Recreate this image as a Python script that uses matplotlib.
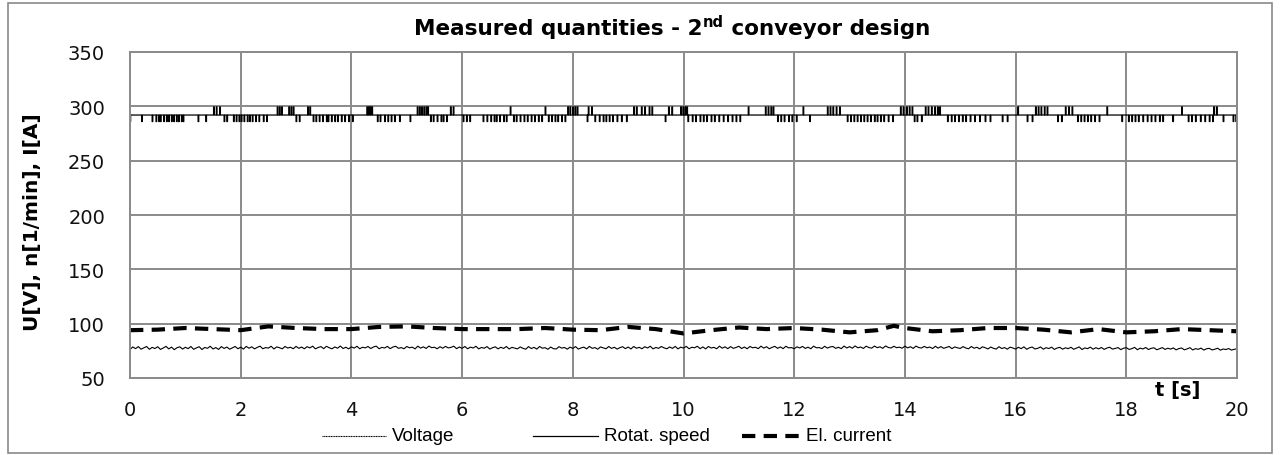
import numpy as np
import matplotlib
matplotlib.use("Agg")
import matplotlib.pyplot as plt
from matplotlib.patches import Rectangle
from matplotlib.lines import Line2D

# ---------------- data ----------------
title_main = "Measured quantities - 2"
title_sup = "nd"
title_rest = " conveyor design"
y_label = "U[V], n[1/min], I[A]"
x_label = "t [s]"
x_ticks = [0, 2, 4, 6, 8, 10, 12, 14, 16, 18, 20]
y_ticks = [50, 100, 150, 200, 250, 300, 350]
series_names = ["Voltage", "Rotat. speed", "El. current"]

# Voltage, sampled every 0.05 s
voltage_dt = 0.05
voltage = [
    76.2, 78.6, 77.0, 78.9, 76.5, 77.8, 79.0, 76.4, 78.2, 77.1, 78.8, 76.3, 77.6, 79.1, 76.8, 78.4, 76.1, 77.9, 78.7, 76.6,
    78.3, 77.0, 79.0, 76.4, 77.7, 78.8, 76.2, 78.1, 77.3, 79.2, 76.7, 78.0, 76.3, 78.9, 77.2, 78.5, 76.5, 77.8, 79.0, 76.9,
    78.4, 76.6, 79.1, 77.4, 78.7, 76.8, 78.2, 79.3, 76.9, 78.0, 77.5, 79.2, 76.7, 78.6, 77.9, 76.8, 79.0, 77.6, 78.3, 76.9,
    79.1, 77.3, 78.5, 76.9, 78.8, 77.7, 79.3, 76.8, 78.1, 78.9, 77.0, 79.2, 77.8, 76.9, 78.6, 77.4, 79.4, 77.1, 78.3, 76.8,
    78.7, 77.5, 79.2, 76.9, 78.3, 77.7, 79.0, 77.1, 78.6, 79.3, 76.9, 78.2, 77.6, 79.1, 77.0, 78.5, 79.2, 77.3, 78.0, 76.9,
    79.0, 77.8, 78.4, 76.8, 79.3, 77.5, 78.7, 77.2, 79.4, 77.9, 78.3, 76.9, 78.8, 77.4, 79.1, 77.7, 78.2, 79.3, 77.0, 78.5,
    77.3, 79.0, 76.9, 78.4, 77.6, 79.2, 76.8, 78.1, 77.4, 78.9, 76.6, 77.9, 78.7, 76.8, 78.3, 77.2, 79.0, 76.7, 78.2, 77.5,
    76.8, 78.6, 77.3, 76.5, 78.9, 77.1, 78.2, 76.6, 79.0, 77.4, 77.9, 76.4, 78.5, 77.0, 76.7, 78.8, 77.5, 78.1, 76.5, 78.4,
    77.2, 78.9, 76.6, 77.7, 78.4, 76.8, 79.1, 77.3, 78.0, 76.5, 78.6, 77.8, 76.9, 79.0, 77.2, 78.3, 76.6, 77.9, 78.8, 77.0,
    78.5, 76.7, 79.0, 77.4, 78.2, 76.9, 78.8, 77.6, 79.2, 76.8, 78.1, 77.3, 79.0, 77.7, 76.9, 78.6, 77.2, 79.1, 76.8, 78.4,
    77.5, 79.1, 76.9, 78.3, 77.8, 79.2, 77.0, 78.6, 76.8, 79.0, 77.6, 78.2, 76.9, 79.3, 77.4, 78.7, 77.0, 78.9, 77.3, 78.1,
    79.2, 77.1, 78.5, 76.9, 79.0, 77.8, 78.3, 77.0, 79.3, 77.5, 78.8, 76.9, 78.2, 79.1, 77.3, 78.6, 77.0, 79.2, 77.7, 78.0,
    76.9, 78.7, 77.6, 79.1, 77.2, 78.4, 76.9, 79.3, 77.8, 78.0, 77.1, 79.2, 77.5, 78.6, 79.0, 77.3, 78.3, 77.0, 79.4, 77.6,
    78.9, 77.4, 79.5, 77.8, 78.5, 77.2, 79.3, 78.0, 77.5, 79.4, 77.9, 78.7, 77.3, 79.5, 78.1, 77.6, 79.2, 77.9, 78.4, 77.4,
    79.3, 77.7, 78.8, 77.2, 79.4, 78.0, 77.6, 79.1, 77.8, 78.5, 77.1, 79.2, 77.5, 78.9, 77.3, 78.2, 79.0, 77.0, 78.6, 77.8,
    77.2, 78.9, 77.6, 76.9, 79.0, 77.4, 78.3, 76.8, 78.7, 77.9, 76.7, 78.5, 77.3, 76.6, 78.8, 77.1, 78.0, 76.5, 78.4, 77.6,
    76.6, 78.3, 77.0, 78.7, 76.4, 77.8, 78.5, 76.7, 77.3, 78.6, 76.5, 77.9, 77.1, 78.4, 76.3, 77.6, 78.2, 76.5, 77.8, 77.0,
    78.3, 76.4, 77.5, 78.6, 76.2, 77.7, 77.0, 78.4, 76.5, 77.9, 76.8, 78.1, 76.3, 77.6, 78.3, 76.6, 77.2, 78.0, 76.1, 77.4,
    77.9, 76.3, 77.0, 78.2, 76.0, 77.5, 76.7, 78.1, 76.2, 77.3, 77.8, 76.0, 76.9, 78.0, 76.3, 77.4, 76.6, 77.7, 75.9, 77.1,
    77.6, 75.9, 76.8, 77.9, 75.8, 77.0, 76.4, 77.5, 75.7, 76.9, 77.3, 75.8, 76.5, 77.4, 75.6, 76.7, 76.2, 77.1, 75.7, 76.4,
    76.9,
]

# Rotational speed: base level with short drops and short peaks (times in s)
speed_base = 292
speed_low = 286
speed_high = 299.5
speed_down_t = [
    0.00, 0.21, 0.40, 0.47, 0.52, 0.55, 0.61, 0.66, 0.70, 0.75, 0.79, 0.84, 0.88, 0.93, 0.96, 1.23, 1.37,
    1.70, 1.75, 1.87, 1.92, 1.97, 2.01, 2.06, 2.12, 2.16, 2.21, 2.27, 2.33, 2.41, 2.47, 3.00, 3.06,
    3.31, 3.36, 3.42, 3.48, 3.55, 3.58, 3.64, 3.70, 3.75, 3.82, 3.88, 3.95, 4.02, 4.47, 4.52, 4.60,
    4.66, 4.72, 4.78, 4.87, 5.06, 5.43, 5.48, 5.55, 5.62, 5.66, 5.72, 6.02, 6.08, 6.14, 6.38, 6.45,
    6.52, 6.58, 6.62, 6.68, 6.75, 6.80, 6.93, 6.98, 7.05, 7.12, 7.18, 7.25, 7.31, 7.38, 7.44, 7.56,
    7.62, 7.68, 7.73, 7.80, 7.86, 8.26, 8.40, 8.48, 8.55, 8.60, 8.66, 8.72, 8.80, 8.88, 8.97, 9.67,
    10.08, 10.16, 10.22, 10.30, 10.36, 10.42, 10.50, 10.56, 10.64, 10.72, 10.80, 10.88, 10.95, 11.02,
    11.70, 11.76, 11.82, 11.90, 11.96, 12.04, 12.28, 12.96, 13.02, 13.08, 13.14, 13.20, 13.26, 13.32,
    13.38, 13.45, 13.50, 13.56, 13.62, 13.70, 13.78, 14.17, 14.22, 14.30, 14.77, 14.84, 14.90, 14.97,
    15.04, 15.10, 15.18, 15.26, 15.35, 15.45, 15.54, 15.76, 15.85, 16.21, 16.30, 16.76, 16.83, 17.12,
    17.18, 17.24, 17.30, 17.36, 17.43, 17.51, 17.92, 18.04, 18.10, 18.16, 18.22, 18.30, 18.38, 18.45,
    18.52, 18.60, 18.66, 18.84, 19.12, 19.18, 19.25, 19.34, 19.42, 19.50, 19.56, 19.75, 19.93, 19.98,
]
speed_up_t = [
    1.51, 1.56, 1.62, 2.66, 2.70, 2.74, 2.87, 2.91, 2.95, 3.21, 3.25, 4.28, 4.31, 4.34, 4.37, 5.19,
    5.23, 5.27, 5.31, 5.35, 5.38, 5.79, 5.84, 6.87, 7.50, 7.91, 7.95, 8.00, 8.04, 8.08, 8.28, 8.34,
    9.10, 9.15, 9.24, 9.30, 9.38, 9.43, 9.73, 9.79, 9.95, 9.99, 10.03, 10.06, 11.17, 11.48, 11.53,
    11.58, 11.62, 12.16, 12.60, 12.65, 12.70, 12.76, 12.82, 13.92, 13.97, 14.03, 14.08, 14.13, 14.37,
    14.42, 14.48, 14.54, 14.59, 14.63, 16.04, 16.36, 16.41, 16.46, 16.52, 16.57, 16.90, 16.96, 17.02,
    17.65, 19.00, 19.58, 19.63,
]

# Electric current, sampled every 0.5 s
current_t = [0, 0.5, 1, 1.5, 2, 2.5, 3, 3.5, 4, 4.5, 5, 5.5, 6, 6.5, 7, 7.5, 8, 8.5, 9, 9.5, 10,
             10.5, 11, 11.5, 12, 12.5, 13, 13.5, 13.8, 14, 14.5, 15, 15.5, 16, 16.5, 17, 17.5,
             18, 18.5, 19, 19.5, 20]
current = [94, 94.5, 96, 95, 94, 97.5, 96, 95, 95, 97, 97.5, 96, 95, 95, 95, 96, 94.5, 94, 97,
           95, 91, 94, 96.5, 95, 96, 94.5, 92, 94, 98, 96, 93, 94, 96, 96, 94.5, 92, 95, 92,
           93, 95, 94, 93]

# ---------------- figure ----------------
W, H, DPI = 1280, 456, 100
fig = plt.figure(figsize=(W / DPI, H / DPI), dpi=DPI)
fig.patch.set_facecolor("white")

main_font = ["DejaVu Sans"]
legend_font = ["Liberation Sans Narrow", "Liberation Sans", "DejaVu Sans"]
grid_col = "#8a8a8a"

ax = fig.add_axes([130 / W, 1 - 379 / H, (1237 - 130) / W, (379 - 53) / H])
ax.set_xlim(0, 20)
ax.set_ylim(50, 350)
ax.set_xticks(x_ticks)
ax.set_yticks(y_ticks)
ax.set_xticklabels([str(v) for v in x_ticks], family=main_font, fontsize=14)
ax.set_yticklabels([str(v) for v in y_ticks], family=main_font, fontsize=14)
ax.tick_params(axis="x", length=0, pad=16, colors="#111111")
ax.tick_params(axis="y", length=0, pad=18, colors="#111111")
ax.grid(True, color=grid_col, linewidth=1.4)
ax.set_axisbelow(True)
for s in ax.spines.values():
    s.set_color(grid_col)
    s.set_linewidth(1.4)

# voltage
vt = np.arange(len(voltage)) * voltage_dt
ax.plot(vt, voltage, color="black", linewidth=0.8)

# speed step signal
pw = 0.012
events = sorted([(t, speed_low) for t in speed_down_t] + [(t, speed_high) for t in speed_up_t])
st, sv = [0.0], [speed_base]
for t, lvl in events:
    st += [t, t + pw]
    sv += [lvl, speed_base]
st.append(20.0)
sv.append(speed_base)
ax.plot(st, sv, color="black", linewidth=0.9, drawstyle="steps-post")

# current
cur_style = (0, (3.2, 2.0))
ax.plot(current_t, current, color="black", linewidth=3.0, linestyle=cur_style)

# axis labels
fig.text(33 / W, 1 - 222 / H, y_label, rotation=90, ha="center", va="center",
         fontsize=14.5, fontweight="bold", family=main_font)
fig.text(1178 / W, 1 - 391 / H, x_label, ha="center", va="center",
         fontsize=14, fontweight="bold", family=main_font)

# title with superscript
renderer = fig.canvas.get_renderer()
ty = 1 - 29 / H
parts = [(title_main, 15.5, 0), (title_sup, 10.5, 6.5), (title_rest, 15.5, 0)]
texts = []
for s, fs, dy in parts:
    t = fig.text(0, ty + dy / H, s, fontsize=fs, fontweight="bold", family=main_font,
                 ha="left", va="center")
    texts.append(t)
widths = [t.get_window_extent(renderer).width for t in texts]
x0 = 672 - sum(widths) / 2
for t, w in zip(texts, widths):
    t.set_x(x0 / W)
    x0 += w

# legend (manual placement)
ly = 1 - 437 / H
leg_items = [
    (series_names[0], 322, 386, dict(linewidth=0.8, linestyle=(0, (1, 0.5)))),
    (series_names[1], 533, 598, dict(linewidth=0.9, linestyle="-")),
    (series_names[2], 742, 800, dict(linewidth=3.0, linestyle=cur_style)),
]
for name, x1, x2, kw in leg_items:
    fig.add_artist(Line2D([x1 / W, x2 / W], [ly, ly], transform=fig.transFigure,
                          color="black", **kw))
    fig.text((x2 + 6) / W, ly, name, ha="left", va="center", fontsize=13.5,
             family=legend_font)

# outer border
fig.add_artist(Rectangle((8 / W, 2 / H), (1272 - 8) / W, (452 - 2) / H,
                         transform=fig.transFigure, fill=False, edgecolor="#8a8a8a",
                         linewidth=1.2))

fig.savefig("out.png", dpi=DPI)
